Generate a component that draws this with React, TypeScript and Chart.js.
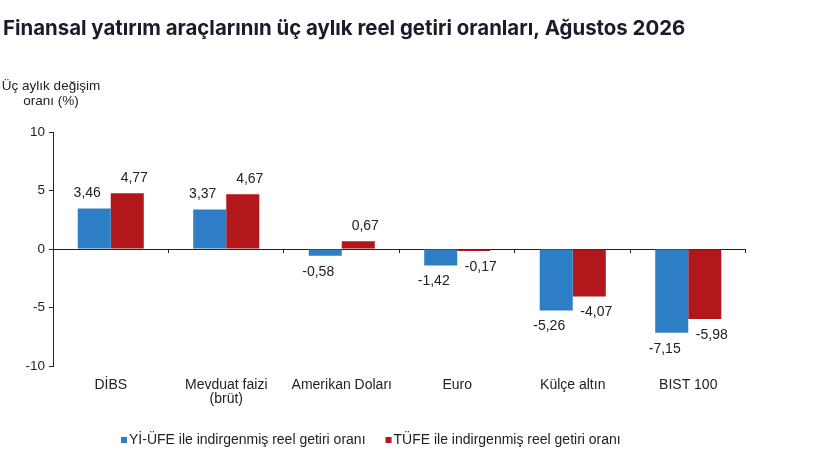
import React, { useEffect, useRef } from "react";
import { Chart, registerables } from "chart.js";

Chart.register(...registerables);

const TITLE = "Finansal yatırım araçlarının üç aylık reel getiri oranları, Ağustos 2026";
const AXIS_TITLE = ["Üç aylık değişim", "oranı (%)"];
const CATEGORIES: (string | string[])[] = [
  "DİBS",
  ["Mevduat faizi", "(brüt)"],
  "Amerikan Doları",
  "Euro",
  "Külçe altın",
  "BIST 100",
];
const SERIES_NAMES = [
  "Yİ-ÜFE ile indirgenmiş reel getiri oranı",
  "TÜFE ile indirgenmiş reel getiri oranı",
];
const YIUFE_VALUES = [3.46, 3.37, -0.58, -1.42, -5.26, -7.15];
const TUFE_VALUES = [4.77, 4.67, 0.67, -0.17, -4.07, -5.98];
const Y_MIN = -10;
const Y_MAX = 10;
const Y_STEP = 5;

const BLUE = "#2E7EC6";
const RED = "#B2171C";
const TEXT = "#222222";
const SANS = '"Liberation Sans", Arial, sans-serif';

const decorPlugin = {
  id: "decor",
  afterDraw(chart: any) {
    const ctx = chart.ctx;
    const area = chart.chartArea;
    const yScale = chart.scales.y;
    ctx.save();

    // title
    ctx.fillStyle = "#1b1b2b";
    ctx.font = 'bold 20.4px Inter, "Liberation Sans", Arial, sans-serif';
    ctx.textAlign = "left";
    ctx.textBaseline = "middle";
    ctx.fillText(TITLE, 3, 29);

    // axis title
    ctx.fillStyle = TEXT;
    ctx.font = "13.5px " + SANS;
    ctx.textAlign = "center";
    ctx.fillText(AXIS_TITLE[0], 51, 86);
    ctx.fillText(AXIS_TITLE[1], 51, 101);

    // tick marks on zero line at category boundaries
    const y0 = yScale.getPixelForValue(0);
    const n = CATEGORIES.length;
    const w = (area.right - area.left) / n;
    ctx.strokeStyle = "#222";
    ctx.lineWidth = 1;
    ctx.beginPath();
    for (let i = 1; i <= n; i++) {
      const x = Math.round(area.left + i * w) - 0.5;
      ctx.moveTo(x, y0);
      ctx.lineTo(x, y0 + 4);
    }
    ctx.stroke();

    // data labels
    ctx.font = "14px " + SANS;
    ctx.fillStyle = TEXT;
    ctx.textAlign = "center";
    ctx.textBaseline = "middle";
    chart.data.datasets.forEach((ds: any, di: number) => {
      const meta = chart.getDatasetMeta(di);
      const dx = di === 0 ? -7 : 7;
      meta.data.forEach((el: any, i: number) => {
        const v = ds.data[i];
        const y = v >= 0 ? el.y - 15 : el.y + 16;
        ctx.fillText(v.toFixed(2).replace(".", ","), el.x + dx, y);
      });
    });

    // legend
    ctx.font = "14px " + SANS;
    ctx.textAlign = "left";
    let lx = 121;
    const ly = 440;
    chart.data.datasets.forEach((ds: any) => {
      ctx.fillStyle = ds.backgroundColor;
      ctx.fillRect(lx, ly - 3, 6, 6);
      ctx.fillStyle = TEXT;
      ctx.fillText(ds.label, lx + 8, ly);
      lx += 8 + ctx.measureText(ds.label).width + 20;
    });

    ctx.restore();
  },
};

export default function App() {
  const ref = useRef<HTMLCanvasElement | null>(null);

  useEffect(() => {
    if (!ref.current) return;
    const chart = new Chart(ref.current, {
      type: "bar",
      data: {
        labels: CATEGORIES,
        datasets: [
          {
            label: SERIES_NAMES[0],
            data: YIUFE_VALUES,
            backgroundColor: BLUE,
            barPercentage: 1,
            categoryPercentage: 0.572,
          },
          {
            label: SERIES_NAMES[1],
            data: TUFE_VALUES,
            backgroundColor: RED,
            barPercentage: 1,
            categoryPercentage: 0.572,
          },
        ],
      },
      options: {
        animation: false,
        responsive: true,
        maintainAspectRatio: false,
        layout: { padding: { top: 132, left: 0, right: 74, bottom: 0 } },
        plugins: {
          legend: { display: false },
          title: { display: false },
          tooltip: { enabled: false },
        },
        scales: {
          x: {
            position: "bottom",
            grid: { display: false, drawTicks: false },
            border: { display: false },
            ticks: {
              color: TEXT,
              font: { family: SANS, size: 14, lineHeight: 1.0 },
              padding: 12,
              maxRotation: 0,
              autoSkip: false,
            },
            afterFit(scale: any) {
              scale.height = 105;
            },
          },
          y: {
            min: Y_MIN,
            max: Y_MAX,
            ticks: {
              stepSize: Y_STEP,
              color: TEXT,
              font: { family: SANS, size: 13.5 },
              padding: 4,
            },
            grid: {
              color: (c: any) => (c.tick && c.tick.value === 0 ? "#222" : "rgba(0,0,0,0)"),
              tickColor: "#222",
              tickLength: 4,
              lineWidth: 1,
            },
            border: { display: true, color: "#222", width: 1 },
            afterFit(scale: any) {
              scale.width = 53;
            },
          },
        },
      },
      plugins: [decorPlugin],
    });
    return () => chart.destroy();
  }, []);

  return (
    <div style={{ position: "absolute", left: 0, top: 0, width: 820, height: 471, background: "#fff" }}>
      <canvas ref={ref} />
    </div>
  );
}
